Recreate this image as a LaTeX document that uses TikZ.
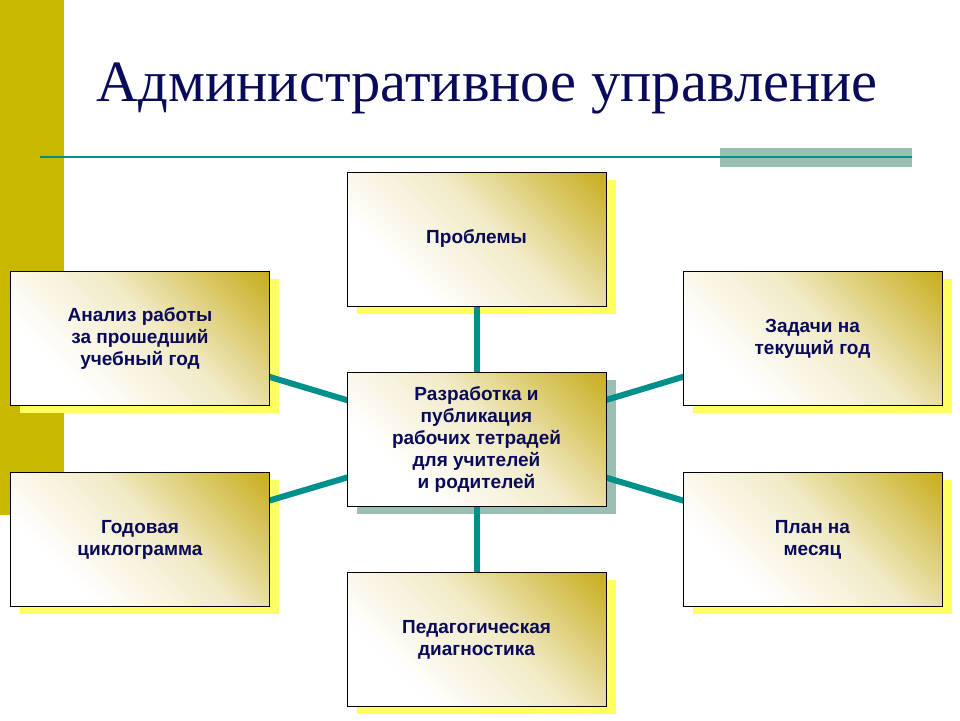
\documentclass[tikz,border=0pt]{standalone}
\usepackage{fontspec}
\setmainfont{Liberation Serif}
\setsansfont{Liberation Sans}
\definecolor{olivebar}{HTML}{C8B800}
\definecolor{goldc}{HTML}{C8AE1E}
\definecolor{navy}{HTML}{0A0A5A}
\definecolor{tealc}{HTML}{00908C}
\definecolor{shy}{HTML}{FFFF60}
\definecolor{shg}{HTML}{9CBFB4}
\pgfdeclarehorizontalshading{boxgrad}{100bp}{color(0bp)=(white); color(30bp)=(white); color(55bp)=(white!75!goldc); color(85bp)=(goldc); color(100bp)=(goldc)}
\tikzset{
  box/.style={draw=black, line width=0.8pt, minimum width=259pt, minimum height=134pt, shading=boxgrad, shading angle=45, align=center, text=navy, font=\sffamily\bfseries\fontsize{19}{22}\selectfont},
  conn/.style={tealc, line width=6pt},
}
\begin{document}
\begin{tikzpicture}[x=1pt,y=-1pt]
\useasboundingbox (0,0) rectangle (960,720);
\fill[olivebar] (0,0) rectangle (64,515);
\node[anchor=base west, text=navy, font=\fontsize{58.5}{66}\selectfont, inner sep=0] (title) at (96,101) {Административное управление};
\fill[shg] (720,148) rectangle (912,167);
\draw[tealc, line width=2.5pt] (40,157) -- (912,157);
% shadows
\foreach \x/\y/\c in {357/180/shy, 20/279/shy, 20/480/shy, 693/279/shy, 693/480/shy, 357/580/shy, 357/380/shg}
  \fill[\c] (\x,\y) rectangle ++(259,134);
\coordinate (cC) at (476.5,439);
\draw[conn] (cC) -- (476.5,239);
\draw[conn] (cC) -- (476.5,639);
\draw[conn] (cC) -- (140,338);
\draw[conn] (cC) -- (140,539);
\draw[conn] (cC) -- (812,338);
\draw[conn] (cC) -- (812,539);
\node[box] (top) at (476.5,239) {Проблемы};
\node[box] (lt) at (140,338.5) {Анализ работы\\за прошедший\\ учебный год};
\node[box] (lb) at (140,539.5) {Годовая\\циклограмма};
\node[box] (rt) at (812.5,338.5) {Задачи на\\текущий год};
\node[box] (rb) at (812.5,539.5) {План на\\ месяц};
\node[box] (bot) at (476.5,639.5) {Педагогическая\\ диагностика};
\node[box] (c) at (476.5,439) {Разработка и\\публикация\\рабочих тетрадей\\ для учителей\\и родителей};
\end{tikzpicture}
\end{document}
